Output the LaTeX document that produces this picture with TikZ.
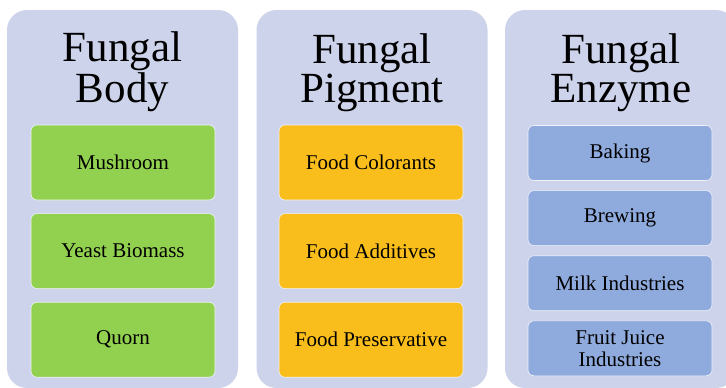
\documentclass[tikz,border=0pt]{standalone}
\usepackage{fontspec}
\setmainfont{Liberation Serif}
\usetikzlibrary{positioning}

\definecolor{panelbg}{HTML}{CDD3EA}
\definecolor{bodygreen}{HTML}{92D050}
\definecolor{pigmentgold}{HTML}{F9BE1C}
\definecolor{enzymeblue}{HTML}{8FAADC}

\begin{document}
\begin{tikzpicture}[x=1pt,y=-1pt]
	\tikzset{panel/.style={fill=panelbg, rounded corners=20pt, minimum width=231pt, minimum height=378pt},
		heading/.style={anchor=base, align=center, font=\fontsize{43}{39}\selectfont, inner sep=0pt},
		itembox/.style={draw=white!70!panelbg, line width=0.6pt, rounded corners=6pt, minimum width=184pt, align=center, font=\fontsize{21}{21}\selectfont},
		greenitem/.style={itembox, fill=bodygreen, minimum height=75pt},
		golditem/.style={itembox, fill=pigmentgold, minimum height=75pt},
		blueitem/.style={itembox, fill=enzymeblue, minimum height=55pt}}
	\clip (0,0) rectangle (726,388);
	% panels
	\node[panel] (body) at (122.5,199) {};
	\node[panel] (pigment) at (372,199) {};
	\node[panel] (enzyme) at (620.5,199) {};
	% headings
	\node[heading] (bodyT) at (122.5,102) {Fungal\\Body};
	\node[heading] (pigmentT) at (372,102) {Fungal\\Pigment};
	\node[heading] (enzymeT) at (621,102) {Fungal\\Enzyme};
	% fungal body
	\node[greenitem] (mushroom) at (123,162.5) {Mushroom};
	\node[greenitem, below=13pt of mushroom] (yeast) {Yeast Biomass};
	\node[greenitem, below=13pt of yeast] (quorn) {Quorn};
	% fungal pigment
	\node[golditem] (colorants) at (371,162.5) {Food Colorants};
	\node[golditem, below=13pt of colorants] (additives) {Food Additives};
	\node[golditem, below=13pt of additives] (preservative) {Food Preservative};
	% fungal enzyme
	\node[blueitem] (baking) at (620,153) {Baking};
	\node[blueitem, below=9.5pt of baking] (brewing) {Brewing};
	\node[blueitem, below=9.5pt of brewing] (milk) {Milk Industries};
	\node[blueitem, below=9.5pt of milk, font=\fontsize{21}{22}\selectfont] (juice) {Fruit Juice\\Industries};
\end{tikzpicture}
\end{document}
